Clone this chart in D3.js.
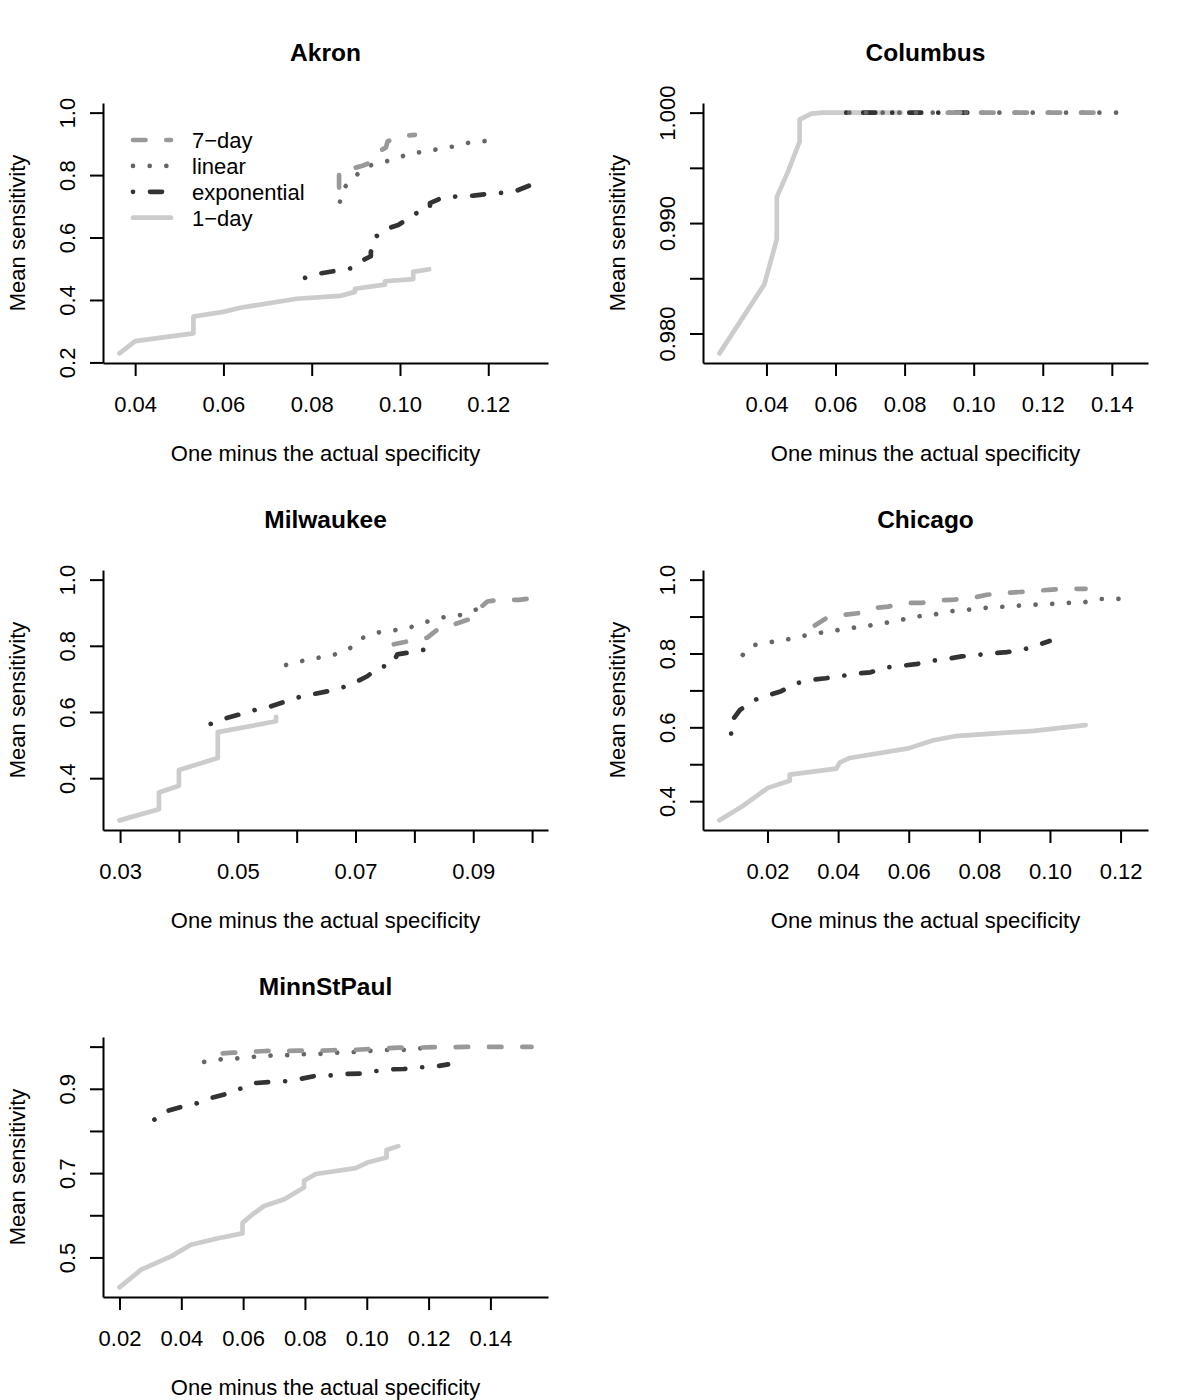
<!DOCTYPE html>
<html>
<head>
<meta charset="utf-8">
<script src="https://cdn.jsdelivr.net/npm/d3@7"></script>
<style>
  body { margin: 0; background: #fff; }
  text { font-family: "Liberation Sans", Arial, Helvetica, sans-serif; fill: #000; }
</style>
</head>
<body>
<div id="chart"></div>
<script>

// legend order of the four series
var seriesNames = ["7\u2212day", "linear", "exponential", "1\u2212day"];

// Akron  ([one minus specificity, mean sensitivity])
var akron7 = [[0.0862,0.760],[0.0862,0.812],[0.0890,0.820],[0.0915,0.830],[0.0934,0.840],[0.0955,0.878],
  [0.0968,0.888],[0.0972,0.908],[0.1004,0.925],[0.1034,0.929]];
var akronLin = [[0.0864,0.715],[0.0875,0.762],[0.0898,0.796],[0.0925,0.828],[0.0955,0.839],[0.0992,0.852],
  [0.1023,0.871],[0.1057,0.874],[0.1091,0.885],[0.1128,0.893],[0.1162,0.906],[0.1196,0.909]];
var akronExp = [[0.0785,0.471],[0.0819,0.485],[0.0853,0.493],[0.0887,0.501],[0.0917,0.528],[0.0934,0.540],
  [0.0934,0.554],[0.0943,0.600],[0.0966,0.626],[0.0996,0.640],[0.1023,0.665],[0.1049,0.689],[0.1068,0.695],
  [0.1068,0.710],[0.1098,0.729],[0.1136,0.732],[0.1166,0.734],[0.1200,0.740],[0.1238,0.744],[0.1264,0.750],[0.1298,0.769]];
var akron1 = [[0.03645,0.229],[0.0400,0.268],[0.0532,0.293],[0.0532,0.347],[0.0600,0.362],[0.0638,0.375],
  [0.0766,0.404],[0.0864,0.413],[0.0898,0.426],[0.0898,0.436],[0.0966,0.449],[0.0966,0.460],[0.1030,0.467],
  [0.1030,0.490],[0.1066,0.4985]];
var akronXTicks = [0.04, 0.06, 0.08, 0.10, 0.12];
var akronXLabels = ["0.04", "0.06", "0.08", "0.10", "0.12"];
var akronYTicks = [0.2, 0.4, 0.6, 0.8, 1.0];
var akronYLabels = ["0.2", "0.4", "0.6", "0.8", "1.0"];

// Columbus
var colum7 = [[0.0925,1.0],[0.1100,1.0],[0.1250,1.0],[0.1365,1.0]];
var columLin = [[0.0640,1.0],[0.0900,1.0],[0.1200,1.0],[0.1457,1.0]];
var columExp = [[0.0631,1.0],[0.0750,1.0],[0.0870,1.0],[0.0993,1.0]];
var colum1 = [[0.0264,0.9782],[0.0394,0.98445],[0.0430,0.98856],[0.0430,0.99236],[0.0462,0.99464],
  [0.0496,0.99738],[0.0496,0.99936],[0.0530,0.99991],[0.0563,1.0],[0.0790,1.0]];
var columXTicks = [0.04, 0.06, 0.08, 0.10, 0.12, 0.14];
var columXLabels = ["0.04", "0.06", "0.08", "0.10", "0.12", "0.14"];
var columYTicks = [0.980, 0.985, 0.990, 0.995, 1.000];
var columYLabels = ["0.980", "", "0.990", "", "1.000"];

// Milwaukee
var milw7 = [[0.0765,0.8045],[0.0799,0.8176],[0.0822,0.8247],[0.0842,0.853],[0.0864,0.863],[0.0893,0.880],
  [0.0898,0.894],[0.0924,0.934],[0.0944,0.939],[0.0978,0.939],[0.0999,0.944]];
var milwLin = [[0.0582,0.742],[0.0609,0.754],[0.0637,0.764],[0.0665,0.774],[0.0690,0.792],[0.0708,0.821],
  [0.0732,0.838],[0.0756,0.846],[0.0784,0.850],[0.0807,0.865],[0.0831,0.878],[0.0856,0.889],[0.0884,0.894],
  [0.0904,0.909],[0.0931,0.916]];
var milwExp = [[0.0454,0.564],[0.0477,0.5795],[0.0504,0.593],[0.0531,0.607],[0.0553,0.615],[0.0578,0.630],
  [0.0604,0.645],[0.0627,0.6535],[0.0654,0.663],[0.0681,0.676],[0.0699,0.689],[0.0720,0.708],[0.0739,0.7345],
  [0.0762,0.743],[0.0771,0.774],[0.0799,0.782],[0.0822,0.790],[0.0831,0.823]];
var milw1 = [[0.0299,0.2725],[0.0366,0.306],[0.0366,0.357],[0.0400,0.377],[0.0400,0.4245],[0.0466,0.461],
  [0.0466,0.539],[0.0565,0.572],[0.0565,0.585]];
var milwXTicks = [0.03, 0.04, 0.05, 0.06, 0.07, 0.08, 0.09, 0.10];
var milwXLabels = ["0.03", "", "0.05", "", "0.07", "", "0.09", ""];
var milwYTicks = [0.4, 0.6, 0.8, 1.0];
var milwYLabels = ["0.4", "0.6", "0.8", "1.0"];

// Chicago
var chic7 = [[0.0334,0.876],[0.0367,0.896],[0.0419,0.905],[0.0461,0.9095],[0.0499,0.923],[0.0542,0.927],
  [0.0594,0.937],[0.0637,0.937],[0.0689,0.944],[0.0731,0.946],[0.0788,0.952],[0.0821,0.959],[0.0873,0.964],
  [0.0916,0.9665],[0.0963,0.970],[0.1006,0.973],[0.1063,0.975],[0.1101,0.975]];
var chicLin = [[0.0130,0.796],[0.0157,0.822],[0.0204,0.830],[0.0251,0.837],[0.0296,0.847],[0.0343,0.855],
  [0.0391,0.862],[0.0438,0.869],[0.0483,0.875],[0.0530,0.882],[0.0578,0.891],[0.0622,0.900],[0.0670,0.905],
  [0.0715,0.914],[0.0763,0.918],[0.0810,0.923],[0.0857,0.926],[0.0905,0.929],[0.0952,0.932],[0.0999,0.934],
  [0.1047,0.937],[0.1094,0.938],[0.1138,0.9475],[0.1186,0.9475],[0.1231,0.950]];
var chicExp = [[0.0097,0.583],[0.0097,0.615],[0.0122,0.647],[0.0163,0.674],[0.0196,0.685],[0.0239,0.698],
  [0.0282,0.719],[0.0319,0.728],[0.0365,0.733],[0.0409,0.739],[0.0447,0.745],[0.0492,0.749],[0.0537,0.762],
  [0.0575,0.766],[0.0620,0.771],[0.0665,0.780],[0.0705,0.785],[0.0750,0.792],[0.0793,0.796],[0.0833,0.800],
  [0.0878,0.8035],[0.0921,0.810],[0.0961,0.821],[0.0999,0.834]];
var chic1 = [[0.0064,0.348],[0.0130,0.387],[0.0201,0.436],[0.0263,0.455],[0.0263,0.472],[0.0395,0.488],
  [0.0405,0.505],[0.0433,0.517],[0.0599,0.543],[0.0670,0.565],[0.0731,0.576],[0.0954,0.5905],[0.1101,0.606]];
var chicXTicks = [0.02, 0.04, 0.06, 0.08, 0.10, 0.12];
var chicXLabels = ["0.02", "0.04", "0.06", "0.08", "0.10", "0.12"];
var chicYTicks = [0.4, 0.5, 0.6, 0.7, 0.8, 0.9, 1.0];
var chicYLabels = ["0.4", "", "0.6", "", "0.8", "", "1.0"];

// MinnStPaul
var minn7 = [[0.0534,0.9842],[0.0566,0.9857],[0.0630,0.988],[0.0674,0.9897],[0.0738,0.9897],[0.0781,0.9905],
  [0.0845,0.9905],[0.0888,0.9914],[0.0953,0.9921],[0.0996,0.9938],[0.1059,0.9962],[0.1104,0.9976],
  [0.1166,0.9976],[0.1211,0.9986],[0.1271,0.9986],[0.1320,0.9993],[0.1533,0.9993]];
var minnLin = [[0.0474,0.964],[0.0528,0.970],[0.0580,0.972],[0.0636,0.976],[0.0690,0.9785],[0.0743,0.980],
  [0.0797,0.982],[0.0851,0.983],[0.0903,0.9857],[0.0953,0.987],[0.1010,0.990],[0.1060,0.992],[0.1115,0.992],
  [0.1169,0.996],[0.1222,0.996]];
var minnExp = [[0.0313,0.827],[0.0349,0.846],[0.0399,0.857],[0.0448,0.865],[0.0491,0.877],[0.0542,0.887],
  [0.0593,0.901],[0.0630,0.913],[0.0682,0.916],[0.0738,0.918],[0.0776,0.922],[0.0830,0.930],[0.0884,0.932],
  [0.0927,0.935],[0.0977,0.936],[0.1029,0.942],[0.1072,0.946],[0.1120,0.947],[0.1174,0.951],[0.1217,0.952],[0.1263,0.958]];
var minn1 = [[0.0200,0.429],[0.0270,0.471],[0.0367,0.5025],[0.0431,0.530],[0.0523,0.546],[0.0598,0.557],
  [0.0598,0.582],[0.0630,0.602],[0.0668,0.622],[0.0733,0.638],[0.0797,0.666],[0.0797,0.682],[0.0835,0.698],
  [0.0964,0.712],[0.1002,0.725],[0.1064,0.737],[0.1064,0.755],[0.1102,0.764]];
var minnXTicks = [0.02, 0.04, 0.06, 0.08, 0.10, 0.12, 0.14];
var minnXLabels = ["0.02", "0.04", "0.06", "0.08", "0.10", "0.12", "0.14"];
var minnYTicks = [0.5, 0.6, 0.7, 0.8, 0.9, 1.0];
var minnYLabels = ["0.5", "", "0.7", "", "0.9", ""];

// line styles, same order as seriesNames
var colors = ["#999999", "#666666", "#333333", "#cccccc"];
var dashes = ["12.5,20.8", "0.01,16.66", "0.01,17,12,17", null];
var drawOrder = [3, 2, 1, 0];

var panels = [
  {title: "Akron", col: 0, row: 0, series: [akron7, akronLin, akronExp, akron1],
   xt: akronXTicks, xl: akronXLabels, yt: akronYTicks, yl: akronYLabels, legend: true},
  {title: "Columbus", col: 1, row: 0, series: [colum7, columLin, columExp, colum1],
   xt: columXTicks, xl: columXLabels, yt: columYTicks, yl: columYLabels},
  {title: "Milwaukee", col: 0, row: 1, series: [milw7, milwLin, milwExp, milw1],
   xt: milwXTicks, xl: milwXLabels, yt: milwYTicks, yl: milwYLabels},
  {title: "Chicago", col: 1, row: 1, series: [chic7, chicLin, chicExp, chic1],
   xt: chicXTicks, xl: chicXLabels, yt: chicYTicks, yl: chicYLabels},
  {title: "MinnStPaul", col: 0, row: 2, series: [minn7, minnLin, minnExp, minn1],
   xt: minnXTicks, xl: minnXLabels, yt: minnYTicks, yl: minnYLabels}
];

// page and plot-region geometry
var W = 1200, H = 1400;
var cellW = 600, cellH = 467;
var margin = {top: 103, left: 103},
    width = 445,
    height = 260;

var svg = d3.select("#chart")
  .append("svg")
    .attr("width", W)
    .attr("height", H)
    .style("background", "#fff");

// pad a range by 4% each side, like R's default axis style
function pad(lo, hi) {
  var d = (hi - lo) * 0.04;
  return [lo - d, hi + d];
}

panels.forEach(function(p) {
  var g = svg.append("g")
    .attr("transform", "translate(" + (p.col * cellW + margin.left) + "," + (p.row * cellH + margin.top) + ")");

  var all = d3.merge(p.series);
  var x = d3.scaleLinear()
    .domain(pad(d3.min(all, function(d) { return d[0]; }), d3.max(all, function(d) { return d[0]; })))
    .range([0, width]);
  var y = d3.scaleLinear()
    .domain(pad(d3.min(all, function(d) { return d[1]; }), 1))
    .range([height, 0]);

  // x axis
  var xa = g.append("g")
    .attr("transform", "translate(0," + height + ")")
    .call(d3.axisBottom(x)
      .tickValues(p.xt)
      .tickFormat(function(d, i) { return p.xl[i]; })
      .tickSize(13)
      .tickSizeOuter(0));
  xa.select(".domain").attr("stroke", "#000").attr("stroke-width", 2);
  xa.selectAll(".tick line").attr("stroke", "#000").attr("stroke-width", 2);
  xa.selectAll(".tick text")
    .attr("y", 49)
    .attr("dy", null)
    .attr("font-size", 22)
    .attr("font-family", "Liberation Sans, Arial, sans-serif");

  // y axis, labels parallel to the axis
  var ya = g.append("g")
    .call(d3.axisLeft(y)
      .tickValues(p.yt)
      .tickFormat(function(d, i) { return p.yl[i]; })
      .tickSize(13)
      .tickSizeOuter(0));
  ya.select(".domain").attr("stroke", "#000").attr("stroke-width", 2);
  ya.selectAll(".tick line").attr("stroke", "#000").attr("stroke-width", 2);
  ya.selectAll(".tick text")
    .attr("transform", "rotate(-90)")
    .attr("x", 0)
    .attr("y", -28)
    .attr("dy", null)
    .attr("text-anchor", "middle")
    .attr("font-size", 22)
    .attr("font-family", "Liberation Sans, Arial, sans-serif");

  // title and axis labels
  g.append("text")
    .attr("x", width / 2)
    .attr("y", -42.5)
    .attr("text-anchor", "middle")
    .style("font-size", "24.5px")
    .style("font-weight", "bold")
    .text(p.title);

  g.append("text")
    .attr("x", width / 2)
    .attr("y", height + 98)
    .attr("text-anchor", "middle")
    .style("font-size", "22px")
    .text("One minus the actual specificity");

  g.append("text")
    .attr("transform", "rotate(-90)")
    .attr("x", -height / 2)
    .attr("y", -78)
    .attr("text-anchor", "middle")
    .style("font-size", "22px")
    .text("Mean sensitivity");

  // lines
  var line = d3.line()
    .x(function(d) { return x(d[0]); })
    .y(function(d) { return y(d[1]); });

  drawOrder.forEach(function(k) {
    g.append("path")
      .datum(p.series[k])
      .attr("d", line)
      .attr("fill", "none")
      .attr("stroke", colors[k])
      .attr("stroke-width", 4.7)
      .attr("stroke-linecap", "round")
      .attr("stroke-linejoin", "round")
      .attr("stroke-dasharray", dashes[k]);
  });

  if (p.legend) {
    var lg = g.append("g").attr("transform", "translate(30,37)");
    seriesNames.forEach(function(name, i) {
      var ry = i * 25.9;
      lg.append("line")
        .attr("x1", 0).attr("x2", 38)
        .attr("y1", ry).attr("y2", ry)
        .attr("stroke", colors[i])
        .attr("stroke-width", 4.7)
        .attr("stroke-linecap", "round")
        .attr("stroke-dasharray", dashes[i]);
      lg.append("text")
        .attr("x", 59)
        .attr("y", ry + 8)
        .style("font-size", "22px")
        .text(name);
    });
  }
});

</script>
</body>
</html>
